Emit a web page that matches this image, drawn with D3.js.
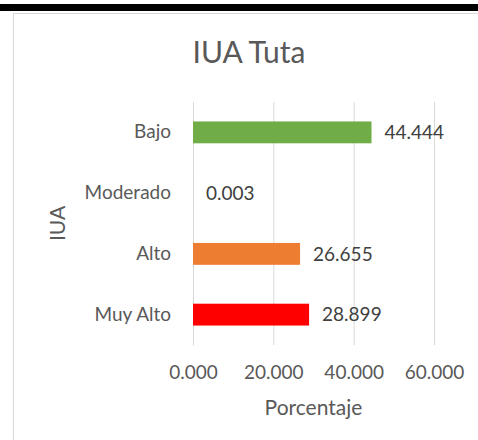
<!DOCTYPE html>
<html>
<head>
<meta charset="utf-8">
<script src="https://cdn.jsdelivr.net/npm/d3@7"></script>
<style>
  body { margin: 0; background: #fff; }
  svg { display: block; }
  text { font-family: Lato, "Open Sans", sans-serif; }
</style>
</head>
<body>
<svg width="478" height="440"></svg>
<script>
// data, top to bottom as in the chart
const categories = ['Bajo', 'Moderado', 'Alto', 'Muy Alto'];
const values = [44.444, 0.003, 26.655, 28.899];
const colors = ['#70ad47', '#4472c4', '#ed7d31', '#ff0000'];
const xTicks = [0, 20, 40, 60];

const svg = d3.select('svg');

// black rule along the top of the page
svg.append('rect')
    .attr('x', 0).attr('y', 4)
    .attr('width', 478).attr('height', 7)
    .attr('fill', '#000');

// chart area border
svg.append('rect')
    .attr('x', 13.5).attr('y', 13.5)
    .attr('width', 472).attr('height', 460)
    .attr('fill', '#fff')
    .attr('stroke', '#d9d9d9');

const plot = { left: 193, right: 434, top: 102, bottom: 345 };

const xScale = d3.scaleLinear()
    .domain([0, 60])
    .range([plot.left, plot.right]);

const yScale = d3.scaleBand()
    .domain(categories)
    .range([plot.top, plot.bottom])
    .paddingInner(0.64)
    .paddingOuter(0.32);

// x axis + vertical gridlines
const xAxis = d3.axisBottom(xScale)
    .tickValues(xTicks)
    .tickFormat(d3.format('.3f'))
    .tickSizeInner(-(plot.bottom - plot.top))
    .tickSizeOuter(0)
    .tickPadding(27);

const gx = svg.append('g')
    .attr('transform', 'translate(0,' + plot.bottom + ')')
    .call(xAxis);
gx.select('.domain').remove();
gx.selectAll('.tick line').attr('stroke', '#d9d9d9');
gx.selectAll('.tick text')
    .attr('fill', '#595959')
    .style('font-size', '19px')
    .attr('dy', '0.35em')
    .attr('y', 27);

// y axis
const yAxis = d3.axisLeft(yScale).tickSize(0).tickPadding(22);
const gy = svg.append('g')
    .attr('transform', 'translate(' + plot.left + ',0)')
    .call(yAxis);
gy.select('.domain').attr('stroke', '#d9d9d9');
gy.selectAll('.tick text')
    .attr('fill', '#595959')
    .style('font-size', '19px');

// bars
svg.selectAll('rect.bar')
    .data(values)
    .enter()
    .append('rect')
        .attr('class', 'bar')
        .attr('x', xScale(0))
        .attr('y', (d, i) => yScale(categories[i]))
        .attr('width', d => xScale(d) - xScale(0))
        .attr('height', yScale.bandwidth())
        .attr('fill', (d, i) => colors[i]);

// data labels
svg.selectAll('text.lbl')
    .data(values)
    .enter()
    .append('text')
        .attr('class', 'lbl')
        .attr('x', d => xScale(d) + 13)
        .attr('y', (d, i) => yScale(categories[i]) + yScale.bandwidth() / 2)
        .attr('dy', '0.35em')
        .attr('fill', '#404040')
        .style('font-size', '19px')
        .text(d => d3.format('.3f')(d));

// title
svg.append('text')
    .attr('x', 249).attr('y', 63)
    .attr('text-anchor', 'middle')
    .attr('fill', '#595959')
    .style('font-size', '30px')
    .text('IUA Tuta');

// axis titles
svg.append('text')
    .attr('x', (plot.left + plot.right) / 2).attr('y', 408)
    .attr('dy', '0.35em')
    .attr('text-anchor', 'middle')
    .attr('fill', '#595959')
    .style('font-size', '21px')
    .text('Porcentaje');

svg.append('text')
    .attr('transform', 'translate(58,' + (plot.top + plot.bottom) / 2 + ') rotate(-90)')
    .attr('dy', '0.35em')
    .attr('text-anchor', 'middle')
    .attr('fill', '#595959')
    .style('font-size', '21px')
    .text('IUA');
</script>
</body>
</html>
